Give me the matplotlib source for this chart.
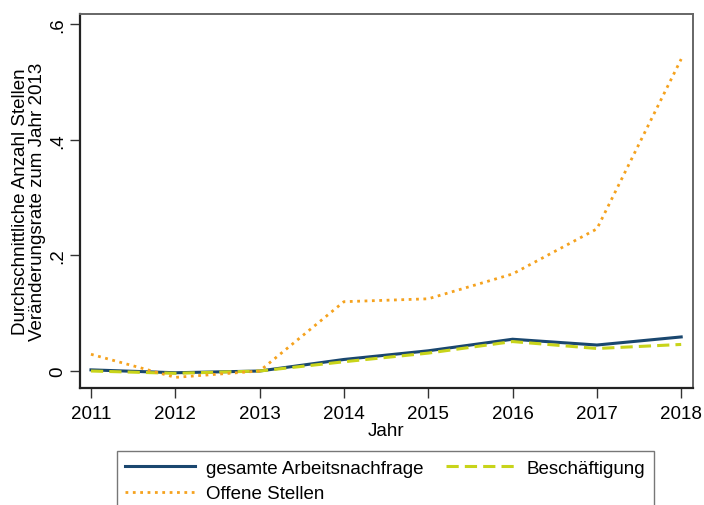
import matplotlib

matplotlib.use("Agg")
import matplotlib.pyplot as plt

years = [2011, 2012, 2013, 2014, 2015, 2016, 2017, 2018]
gesamt = [0.002, -0.003, 0.0, 0.020, 0.035, 0.055, 0.045, 0.059]
beschaeftigung = [0.0, -0.004, 0.0, 0.016, 0.031, 0.051, 0.039, 0.046]
offene = [0.029, -0.011, 0.0, 0.120, 0.125, 0.168, 0.246, 0.540]
yticks = [0, 0.2, 0.4, 0.6]
ytick_labels = ["0", ".2", ".4", ".6"]

plt.rcParams.update({"font.family": "Liberation Sans", "font.size": 13.5})

fig = plt.figure(figsize=(7.04, 5.06), dpi=100)
ax = fig.add_axes([80 / 704, 1 - 389 / 506, 613 / 704, 374 / 506])

ax.plot(years, gesamt, "-", color="#1a476f", lw=2.2, label="gesamte Arbeitsnachfrage")
ax.plot(years, beschaeftigung, "--", color="#c8d41a", lw=2.2, dashes=(4, 2), label="Beschäftigung")
ax.plot(years, offene, ":", color="#f5a21e", lw=2.0, label="Offene Stellen")

ax.set_xlim(2010.87, 2018.14)
ax.set_ylim(-0.0294, 0.618)
ax.set_xticks(years)
ax.set_yticks(yticks)
ax.set_yticklabels(ytick_labels, rotation=90, va="center")
ax.tick_params(direction="out", length=7, width=1, color="#333333", labelsize=13.5)
ax.tick_params(axis="y", pad=3)
ax.tick_params(axis="x", pad=5)
ax.set_xlabel("Jahr", labelpad=0)
ax.set_ylabel("Durchschnittliche Anzahl Stellen\nVeränderungsrate zum Jahr 2013",
              linespacing=1.0, labelpad=2)
for side in ["left", "bottom"]:
    ax.spines[side].set_color("#222222")
    ax.spines[side].set_linewidth(1.6)
for side in ["top", "right"]:
    ax.spines[side].set_color("#666666")
    ax.spines[side].set_linewidth(1.4)

h, l = ax.get_legend_handles_labels()
order = [0, 2, 1]
leg = fig.legend([h[i] for i in order], [l[i] for i in order], ncol=2,
                 loc="upper left", bbox_to_anchor=(117 / 704, 1 - 452 / 506),
                 frameon=True, fancybox=False, handlelength=3.7, columnspacing=1.2,
                 borderpad=0.45, labelspacing=0.45, handletextpad=0.6, fontsize=13.5,
                 borderaxespad=0)
leg.get_frame().set_edgecolor("#555555")
leg.get_frame().set_linewidth(1.0)

fig.savefig("out.png", dpi=100)
